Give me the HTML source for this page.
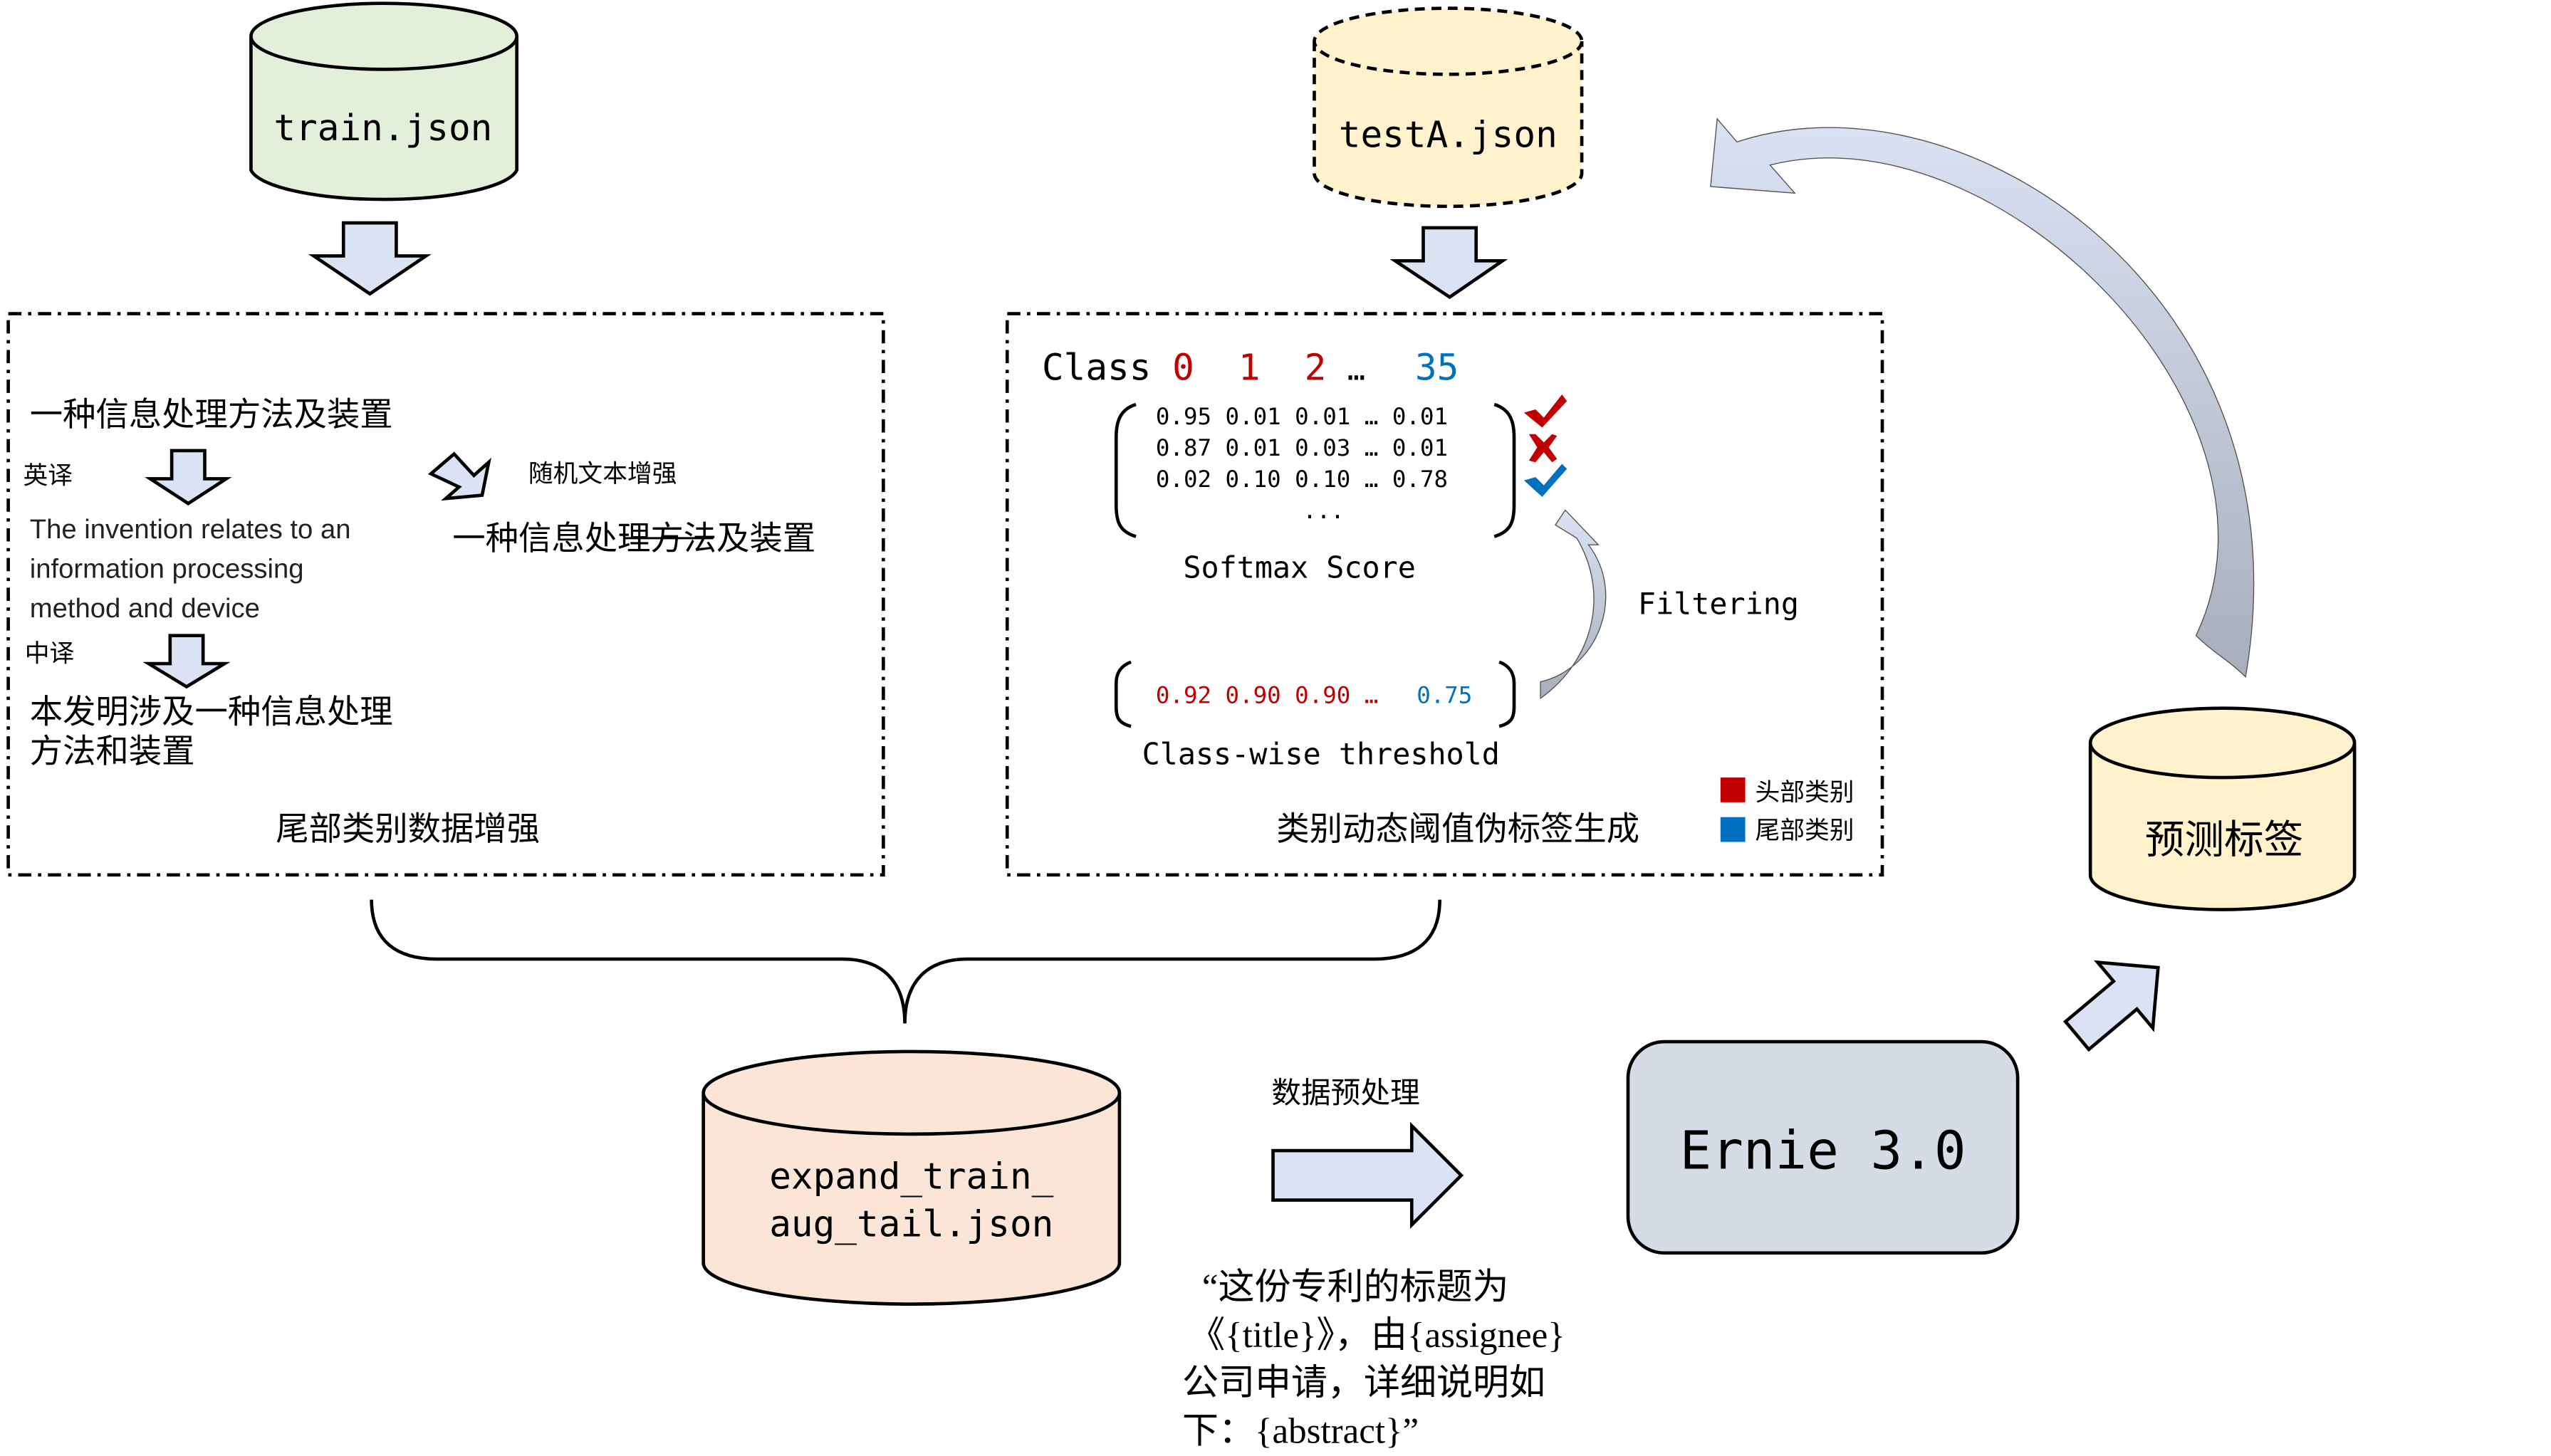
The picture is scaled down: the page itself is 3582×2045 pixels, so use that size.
<!DOCTYPE html>
<html><head><meta charset="utf-8">
<style>
html,body{margin:0;padding:0;background:#fff;}
svg{display:block;}
.mono{font-family:"DejaVu Sans Mono","Liberation Mono",monospace;}
.cn{font-family:"Liberation Sans","Noto Sans CJK SC",sans-serif;}
.sf{font-family:"Liberation Serif","Noto Sans CJK SC",serif;}
</style></head>
<body>
<svg width="3582" height="2045" viewBox="0 0 1545 882" preserveAspectRatio="none" xmlns="http://www.w3.org/2000/svg">
<defs>
<linearGradient id="g1" x1="0" y1="0" x2="0" y2="1">
<stop offset="0" stop-color="#dae3f3"/><stop offset="1" stop-color="#a7afbd"/>
</linearGradient>
<linearGradient id="g2" x1="0" y1="1" x2="0" y2="0">
<stop offset="0" stop-color="#a7afbd"/><stop offset="1" stop-color="#dae3f3"/>
</linearGradient>
</defs>

<!-- train.json cylinder -->
<path d="M152,22 L152,103 A81,20 0 0 0 313,103 L313,22" fill="#e2efd9" stroke="#000" stroke-width="2"/>
<ellipse cx="232.5" cy="22" rx="80.5" ry="20" fill="#e2efd9" stroke="#000" stroke-width="2"/>
<text x="232" y="85" class="mono" font-size="22" text-anchor="middle">train.json</text>

<!-- down arrow 1 -->
<polygon points="208,135 240,135 240,155 258,155 224,178 190,155 208,155" fill="#dae3f3" stroke="#000" stroke-width="2"/>

<!-- left dashed box -->
<rect x="5" y="190" width="530" height="340" fill="none" stroke="#000" stroke-width="2" stroke-dasharray="8,4,2,4"/>
<text x="18" y="258" class="cn" font-size="20">一种信息处理方法及装置</text>
<text x="14" y="293" class="cn" font-size="15">英译</text>
<polygon points="104,273 124,273 124,290 137,290 114,305 91,290 104,290" fill="#dae3f3" stroke="#000" stroke-width="2"/>
<text x="18" y="326" class="cn" font-size="16.5" fill="#222">The invention relates to an</text>
<text x="18" y="350" class="cn" font-size="16.5" fill="#222">information processing</text>
<text x="18" y="374" class="cn" font-size="16.5" fill="#222">method and device</text>
<text x="15" y="401" class="cn" font-size="15">中译</text>
<polygon points="103,385 123,385 123,402 136,402 113,416 90,402 103,402" fill="#dae3f3" stroke="#000" stroke-width="2"/>
<text x="18" y="438" class="cn" font-size="20">本发明涉及一种信息处理</text>
<text x="18" y="462" class="cn" font-size="20">方法和装置</text>
<polygon points="261,287 275,275 287,288 296,280 292,300 270,302 278,295" fill="#dae3f3" stroke="#000" stroke-width="2" stroke-linejoin="miter"/>
<text x="320" y="292" class="cn" font-size="15">随机文本增强</text>
<text x="274" y="333" class="cn" font-size="20">一种信息处理方法及装置</text>
<line x1="378" y1="326" x2="432" y2="326" stroke="#000" stroke-width="1.3"/>
<text x="247" y="509" class="cn" font-size="20" text-anchor="middle">尾部类别数据增强</text>

<!-- testA cylinder -->
<path d="M796,25 L796,105 A81,20 0 0 0 958,105 L958,25" fill="#fff2cc" stroke="#000" stroke-width="2" stroke-dasharray="6,4"/>
<ellipse cx="877" cy="25" rx="81" ry="20" fill="#fff2cc" stroke="#000" stroke-width="2" stroke-dasharray="6,4"/>
<text x="877" y="89" class="mono" font-size="22" text-anchor="middle">testA.json</text>

<!-- down arrow 2 -->
<polygon points="862,138 894,138 894,158 910,158 878,180 845,158 862,158" fill="#dae3f3" stroke="#000" stroke-width="2"/>

<!-- right dashed box -->
<rect x="610" y="190" width="530" height="340" fill="none" stroke="#000" stroke-width="2" stroke-dasharray="8,4,2,4"/>
<text x="631" y="230" class="mono" font-size="22">Class</text>
<text x="710" y="230" class="mono" font-size="22" fill="#c00000">0</text>
<text x="750" y="230" class="mono" font-size="22" fill="#c00000">1</text>
<text x="790" y="230" class="mono" font-size="22" fill="#c00000">2</text>
<text x="816" y="230" class="mono" font-size="18">…</text>
<text x="857" y="230" class="mono" font-size="22" fill="#0070c0">35</text>
<text x="700" y="257" class="mono" font-size="14">0.95 0.01 0.01 …  0.01</text>
<text x="700" y="276" class="mono" font-size="14">0.87 0.01 0.03 …  0.01</text>
<text x="700" y="295" class="mono" font-size="14">0.02 0.10 0.10 …  0.78</text>
<text x="789" y="314" class="mono" font-size="14">...</text>
<path d="M688,245 C678,248 676,256 676,265 L676,306 C676,316 678,322 688,325" fill="none" stroke="#000" stroke-width="2"/>
<path d="M905,245 C915,248 917,256 917,265 L917,306 C917,316 915,322 905,325" fill="none" stroke="#000" stroke-width="2"/>
<path d="M923,250 L930,248 L935,253 L946,239 L949,243 L934,259 Z" fill="#c00000"/>
<path d="M926,263 L930,263 L935,268 L940,263 L943,264 L938,271 L943,278 L940,280 L935,274 L930,280 L926,279 L931,271 Z" fill="#c00000"/>
<path d="M923,291 L930,289 L935,294 L946,281 L949,284 L934,301 Z" fill="#0070c0"/>
<text x="787" y="350" class="mono" font-size="18" text-anchor="middle">Softmax Score</text>
<!-- filtering curved arrow -->
<path d="M933,413 C968,405 985,360 962,330 L968,330 L948,309 L942,318 L955,326 C975,360 965,400 933,423 Z" fill="url(#g2)" stroke="#555" stroke-width="0.6"/>
<text x="992" y="372" class="mono" font-size="18">Filtering</text>
<path d="M685,401 C677,404 676,410 676,414 L676,428 C676,434 677,438 685,440" fill="none" stroke="#000" stroke-width="2"/>
<path d="M908,401 C916,404 917,410 917,414 L917,428 C917,434 916,438 908,440" fill="none" stroke="#000" stroke-width="2"/>
<text x="700" y="426" class="mono" font-size="14" fill="#c00000">0.92 0.90 0.90 …</text>
<text x="858" y="426" class="mono" font-size="14" fill="#0070c0">0.75</text>
<text x="800" y="463" class="mono" font-size="18" text-anchor="middle">Class-wise threshold</text>
<rect x="1042" y="471" width="15" height="15" fill="#c00000"/>
<text x="1063" y="485" class="cn" font-size="15">头部类别</text>
<rect x="1042" y="495" width="15" height="15" fill="#0070c0"/>
<text x="1063" y="508" class="cn" font-size="15">尾部类别</text>
<text x="883" y="509" class="cn" font-size="20" text-anchor="middle">类别动态阈值伪标签生成</text>

<!-- big curved arrow -->
<path d="M1040,72 L1052,86 C1190,40 1400,180 1360,410 C1350,400 1340,395 1330,385 C1395,250 1210,65 1072,100 L1087,117 L1036,113 Z" fill="url(#g1)" stroke="#555" stroke-width="0.6"/>

<!-- 预测标签 cylinder -->
<path d="M1266,450 L1266,530 A80,21 0 0 0 1426,530 L1426,450" fill="#fff2cc" stroke="#000" stroke-width="2"/>
<ellipse cx="1346" cy="450" rx="80" ry="21" fill="#fff2cc" stroke="#000" stroke-width="2"/>
<text x="1347" y="517" class="cn" font-size="24" text-anchor="middle">预测标签</text>

<!-- up-right arrow -->
<g transform="translate(1281,608) rotate(-40)">
<polygon points="-30,-11 8,-11 8,-26 34,0 8,26 8,11 -30,11" fill="#dae3f3" stroke="#000" stroke-width="2"/>
</g>

<!-- brace -->
<path d="M225,545 C225,570 240,581 265,581 L510,581 C535,581 548,595 548,620 C548,595 561,581 586,581 L832,581 C857,581 872,570 872,545" fill="none" stroke="#000" stroke-width="2"/>

<!-- expand cylinder -->
<path d="M426,662 L426,765 A126,25 0 0 0 678,765 L678,662" fill="#fbe5d6" stroke="#000" stroke-width="2"/>
<ellipse cx="552" cy="662" rx="126" ry="25" fill="#fbe5d6" stroke="#000" stroke-width="2"/>
<text x="552" y="720" class="mono" font-size="22" text-anchor="middle">expand_train_</text>
<text x="552" y="749" class="mono" font-size="22" text-anchor="middle">aug_tail.json</text>

<text x="815" y="668" class="cn" font-size="18" text-anchor="middle">数据预处理</text>
<polygon points="771,697 855,697 855,682 885,712 855,742 855,727 771,727" fill="#dae3f3" stroke="#000" stroke-width="2"/>

<!-- Ernie -->
<rect x="986" y="631" width="236" height="128" rx="22" fill="#d6dce5" stroke="#000" stroke-width="2"/>
<text x="1104" y="708" class="mono" font-size="32" text-anchor="middle">Ernie 3.0</text>

<text x="728" y="787" class="sf" font-size="22">“这份专利的标题为</text>
<text x="720" y="816" class="sf" font-size="22">《{title}》，由{assignee}</text>
<text x="716" y="845" class="sf" font-size="22">公司申请，详细说明如</text>
<text x="716" y="874" class="sf" font-size="22">下：{abstract}”</text>
</svg>
</body></html>
